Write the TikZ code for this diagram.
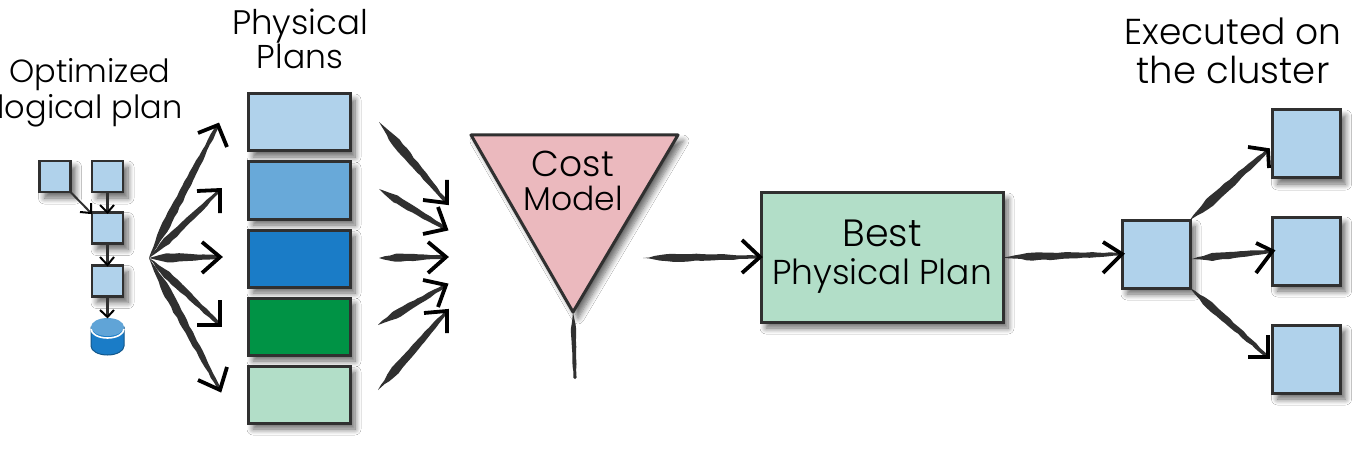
\documentclass[tikz,border=0pt]{standalone}
\usepackage{fontspec}
\setmainfont{Poppins Light}
\usetikzlibrary{calc,shadows,shadows.blur,decorations.pathmorphing}
\definecolor{ink}{HTML}{303030}
\definecolor{pale}{HTML}{B0D2EB}
\definecolor{midblue}{HTML}{68A9D9}
\definecolor{deepblue}{HTML}{1A7CC7}
\definecolor{leaf}{HTML}{009345}
\definecolor{mint}{HTML}{B2DEC8}
\definecolor{rose}{HTML}{EBB9BE}
\newcommand{\fs}[1]{\fontsize{#1}{39}\selectfont}
\tikzset{
  softshadow/.style={blur shadow={shadow xshift=5pt,shadow yshift=-6pt,shadow blur steps=8,shadow blur radius=6pt,shadow opacity=60}},
  rough/.style={decorate,decoration={random steps,segment length=6pt,amplitude=.5pt}},
  planbox/.style={draw=ink,line width=3pt,minimum width=#1,inner sep=0pt,outer sep=0pt,softshadow},
  smallbox/.style={planbox=31pt,minimum height=31pt,fill=pale,line width=2.6pt},
  execbox/.style={planbox=68pt,minimum height=68pt,fill=pale},
  label/.style={inner sep=0pt,align=center,text=black},
  head/.style={draw=black,line width=3.8pt,line join=miter},
  thinhead/.style={draw=black,line width=2pt},
  taperfill/.style={fill=ink,rough},
}
% tapered brush stroke from (#1) to (#2), half width #3
\newcommand{\brush}[3]{%
  \fill[taperfill] (#1) -- ($(#1)!.25!(#2)!#3pt!90:(#2)$) -- ($(#1)!.6!(#2)!#3pt*.75!90:(#2)$) -- ($(#1)!.98!(#2)!1.6pt!90:(#2)$) -- (#2)
    -- ($(#1)!.98!(#2)!1.6pt!-90:(#2)$) -- ($(#1)!.6!(#2)!#3pt*.75!-90:(#2)$) -- ($(#1)!.25!(#2)!#3pt!-90:(#2)$) -- cycle;}
% connector: name, tail, tip, arm a, arm b, half width
\newcommand{\conn}[6]{%
  \coordinate (#1t) at (#2);
  \coordinate (#1h) at (#3);
  \brush{#1t}{#1h}{#6}
  \draw[head] (#4) -- (#1h) -- (#5);}
\begin{document}
\begin{tikzpicture}[x=1pt,y=-1pt]
\pgfmathsetseed{7}
\useasboundingbox (0,0) rectangle (1367,449);
\fill[white] (0,0) rectangle (1367,449);

% labels
\node[label] (lopt) at (90,93) {\fs{32}Optimized\\[3pt]\fs{32}logical plan};
\node[label] (lphys) at (300,39) {\fs{34}Physical\\\fs{33}Plans};
\node[label] (lexec) at (1233,51) {\fs{36}Executed on\\[10pt]\fs{37}the cluster};

% small logical plan
\node[smallbox] (s1) at (55,176.5) {};
\node[smallbox] (s2) at (107.5,176.5) {};
\node[smallbox] (s3) at (107.5,228) {};
\node[smallbox] (s4) at (107.5,281) {};
\coordinate (db) at (107.5,336);
\fill[deepblue,draw=deepblue!70!black,line width=1pt] (91,327) -- (91,346) arc[start angle=180,end angle=360,x radius=16.5,y radius=-9] -- (124,327) -- cycle;
\fill[midblue!90!deepblue] (107.5,327) ellipse[x radius=16.5,y radius=9];
\draw[white,line width=1.6pt] (91,329) arc[start angle=180,end angle=360,x radius=16.5,y radius=-9];
\draw[ink,line width=2pt] (s1.south east) -- (91,213);
\draw[thinhead] (80,212) -- (91,213) -- (91,203);
\draw[ink,line width=2.6pt] (s2.south) -- (s3.north);
\draw[thinhead] (100,205) -- (s3.north) -- (114,205);
\draw[ink,line width=2.6pt] (s3.south) -- (s4.north);
\draw[thinhead] (100,257) -- (107.5,265) -- (114,257);
\draw[ink,line width=2.6pt] (s4.south) -- (107.5,317);
\draw[thinhead] (100,310) -- (107.5,317) -- (114,310);

% physical plans
\node[planbox=102pt,minimum height=57pt,fill=pale] (p1) at (299,122.5) {};
\node[planbox=102pt,minimum height=57pt,fill=midblue] (p2) at (299,190.5) {};
\node[planbox=102pt,minimum height=57pt,fill=deepblue] (p3) at (299,258.5) {};
\node[planbox=102pt,minimum height=57pt,fill=leaf] (p4) at (299,326.5) {};
\node[planbox=102pt,minimum height=57pt,fill=mint] (p5) at (299,394.5) {};

% fan out
\coordinate (fan) at (149,258);
\conn{f1}{fan}{218,125}{198,133}{227,147}{4.5}
\conn{f2}{fan}{220,190}{197,191}{220,213}{4}
\conn{f3}{fan}{220,257}{202,242}{202,273}{4.5}
\conn{f4}{fan}{220,325}{197,325}{220,300}{4}
\conn{f5}{fan}{220,390}{198,380}{227,367}{4.5}

% fan in
\conn{c1}{379,122}{447,203}{447,180}{423,200}{4.5}
\conn{c2}{379,189}{446,229}{438,207}{423,234}{4}
\conn{c3}{379,258}{446,257}{428,242}{428,273}{4}
\conn{c4}{378,325}{446,285}{423,280}{438,307}{4}
\conn{c5}{378,390}{447,311}{424,313}{447,333}{4.5}

% cost model
\path[fill=rose,draw=ink,line width=3pt,line join=round,softshadow] (471,135) coordinate (fa) -- (678,135) coordinate (fb) -- (573,312) coordinate (fc) -- cycle;
\node[label] (lcost) at (573,181) {\fs{36}Cost\\[8pt]\fs{33}Model};
\coordinate (stem) at (575,379);
\brush{fc}{stem}{2.6}

% best plan
\node[planbox=242pt,minimum height=129pt,fill=mint] (best) at (882,257.5) {};
\node[label] (lbest) at (882,257) {\fs{38}Best\\[11pt]\fs{34.5}Physical Plan};
\conn{m1}{643,258}{760,257}{742,240}{742,273}{4}

% execution
\node[execbox] (e0) at (1156,254) {};
\node[execbox] (e1) at (1306.5,144) {};
\node[execbox] (e2) at (1306.5,251) {};
\node[execbox] (e3) at (1306.5,359) {};
\conn{m2}{best.east}{e0.west}{1103,242}{1103,273}{4}
\conn{o1}{e0.north east}{1268,150}{1248,147}{1269,168}{4.8}
\conn{o2}{1192,259}{e2.west}{1256,243}{1256,273}{4}
\conn{o3}{e0.south east}{1268,357}{1248,357}{1268,335}{4}
\end{tikzpicture}
\end{document}
